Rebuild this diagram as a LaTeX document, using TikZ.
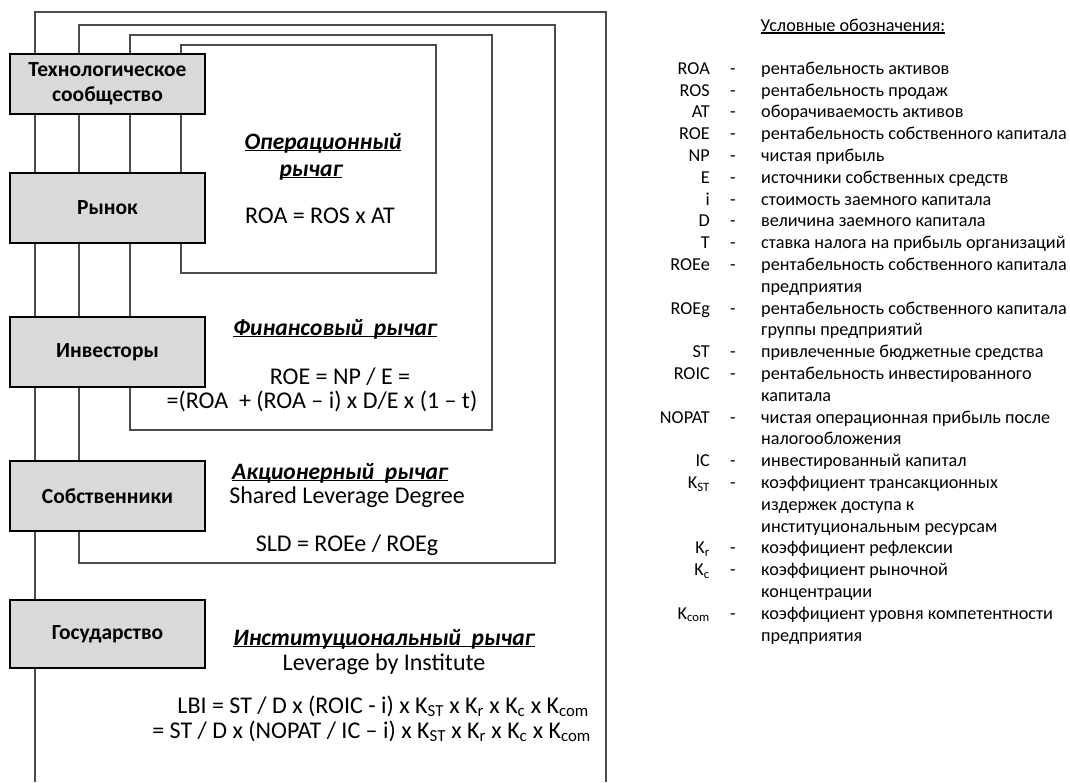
\documentclass[tikz,border=0pt]{standalone}
\usepackage{fontspec}
\setmainfont{Carlito}
\newcommand\ulx[1]{\setbox0\hbox{#1}\rlap{\rule[-2.2pt]{\wd0}{1.3pt}}\box0}
\begin{document}
\begin{tikzpicture}[x=1pt,y=-1pt,
  frame/.style={draw=black!70, line width=1.1pt},
  actor/.style={draw=black, line width=2.8pt, fill=black!15, minimum width=195pt,
    font=\bfseries\fontsize{21.5}{25}\selectfont, align=center, inner sep=0pt},
  head/.style={font=\bfseries\itshape\fontsize{23.5}{27}\selectfont, inner sep=0pt, anchor=base},
  formula/.style={font=\fontsize{24}{28}\selectfont, inner sep=0pt, anchor=base},
  leg/.style={font=\fontsize{18.2}{21}\selectfont, inner sep=0pt}]
\useasboundingbox (0,0) rectangle (1070,782);
% nested frames
\draw[frame] (35,782) -- (35,12) -- (606,12) -- (606,782);
\draw[frame] (79,25) rectangle (555,563);
\draw[frame] (130,35) rectangle (492,430);
\draw[frame] (181,45) rectangle (436,273);
% actor boxes
\node[actor, minimum height=60pt] (tech) at (107.5,84) {Технологическое\\сообщество};
\node[actor, minimum height=70pt] (market) at (107.5,208) {Рынок};
\node[actor, minimum height=70pt] (investors) at (107.5,352) {Инвесторы};
\node[actor, minimum height=70pt] (owners) at (107.5,496) {Собственники};
\node[actor, minimum height=68pt] (state) at (107.5,634) {Государство};
% operational leverage
\node[head] (oph1) at (323,149) {\ulx{Операционный}};
\node[head] (oph2) at (311,176) {\ulx{рычаг}};
\node[formula] (opf) at (320,223) {ROA = ROS x AT};
% financial leverage
\node[head] (finh) at (335,335) {\ulx{Финансовый\ \ рычаг}};
\node[formula] (roe1) at (340,384) {ROE = NP / E =};
\node[formula] (roe2) at (322,408) {=(ROA\ \ + (ROA – i) x D/E x (1 – t)};
% shareholder leverage
\node[head] (akh) at (340,479) {\ulx{Акционерный\ \ рычаг}};
\node[formula] (sldn) at (347,503) {Shared Leverage Degree};
\node[formula] (sldf) at (347,551) {SLD = ROEe\ / ROEg};
% institutional leverage
\node[head] (insh) at (384,645) {\ulx{Институциональный\ \ рычаг}};
\node[formula] (lbin) at (384,670) {Leverage by Institute};
\node[formula, anchor=base east] (lbi1) at (589,713) {LBI = ST / D x (ROIC - i) x K\textsubscript{ST} x K\textsubscript{r} x K\textsubscript{c} x K\textsubscript{com}};
\node[formula, anchor=base east] (lbi2) at (591,738) {= ST / D x (NOPAT / IC – i) x K\textsubscript{ST} x K\textsubscript{r} x K\textsubscript{c} x K\textsubscript{com}};
% legend
\node[leg, anchor=mid] (legt) at (853,29) {\ulx{Условные обозначения:}};
\foreach \k/\ab/\ds in {0/ROA/рентабельность активов, 1/ROS/рентабельность продаж,
  2/AT/оборачиваемость активов, 3/ROE/рентабельность собственного капитала,
  4/NP/чистая прибыль, 5/E/источники собственных средств, 6/i/стоимость заемного капитала,
  7/D/величина заемного капитала, 8/T/ставка налога на прибыль организаций,
  9/ROEe/рентабельность собственного капитала, 11/ROEg/рентабельность собственного капитала,
  13/ST/привлеченные бюджетные средства, 14/ROIC/рентабельность инвестированного,
  16/NOPAT/чистая операционная прибыль после, 18/IC/инвестированный капитал,
  19/K\textsubscript{ST}/коэффициент трансакционных, 22/K\textsubscript{r}/коэффициент рефлексии,
  23/K\textsubscript{c}/коэффициент рыночной, 25/K\textsubscript{com}/коэффициент уровня компетентности}
{
  \node[leg, anchor=mid east] (ab\k) at (710,{72+21.8*\k}) {\ab};
  \node[leg, anchor=mid] (dash\k) at (733,{72+21.8*\k}) {-};
  \node[leg, anchor=mid west] (ds\k) at (761,{72+21.8*\k}) {\ds};
}
\foreach \k/\ds in {10/предприятия, 12/группы предприятий, 15/капитала, 17/налогообложения,
  20/издержек доступа к, 21/институциональным ресурсам, 24/концентрации, 26/предприятия}
{
  \node[leg, anchor=mid west] (cont\k) at (761,{72+21.8*\k}) {\ds};
}
\end{tikzpicture}
\end{document}
